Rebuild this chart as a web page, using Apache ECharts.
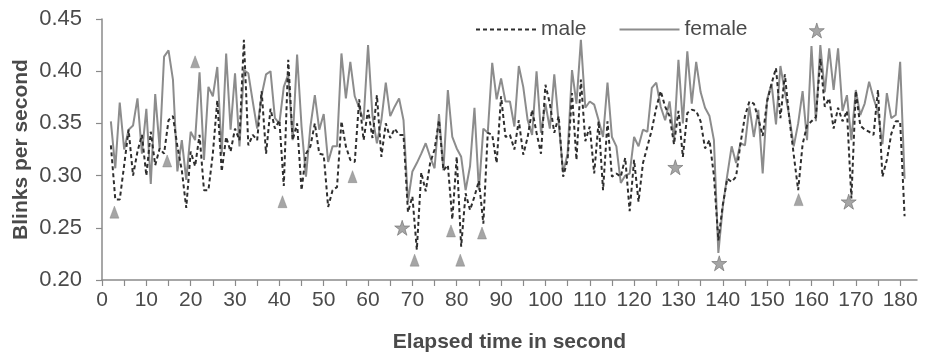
<!DOCTYPE html>
<html>
<head>
<meta charset="utf-8">
<script src="https://cdn.jsdelivr.net/npm/echarts@6/dist/echarts.min.js"></script>
<style>
  html, body { margin: 0; padding: 0; background: #fff; }
  #chart { width: 925px; height: 355px; }
</style>
</head>
<body>
<div id="chart"></div>
<script>
// one reading per second, from second 2 to 181
const seconds = Array.from({ length: 180 }, (_, i) => i + 2);

const femaleRate = [
  0.352, 0.307, 0.370, 0.325, 0.344, 0.348, 0.374, 0.321, 0.364, 0.292,
  0.378, 0.326, 0.414, 0.420, 0.392, 0.304, 0.334, 0.296, 0.342, 0.334,
  0.399, 0.315, 0.385, 0.376, 0.404, 0.321, 0.417, 0.344, 0.398, 0.328,
  0.401, 0.398, 0.371, 0.345, 0.377, 0.397, 0.400, 0.355, 0.350, 0.385,
  0.397, 0.334, 0.416, 0.347, 0.299, 0.347, 0.377, 0.344, 0.359, 0.313,
  0.328, 0.328, 0.417, 0.374, 0.409, 0.376, 0.365, 0.353, 0.425, 0.357,
  0.331, 0.353, 0.389, 0.357, 0.366, 0.374, 0.353, 0.275, 0.304, 0.312,
  0.321, 0.331, 0.318, 0.307, 0.359, 0.305, 0.382, 0.337, 0.326, 0.318,
  0.286, 0.309, 0.365, 0.286, 0.345, 0.341, 0.408, 0.373, 0.393, 0.371,
  0.371, 0.347, 0.405, 0.385, 0.353, 0.339, 0.400, 0.341, 0.369, 0.345,
  0.397, 0.350, 0.303, 0.321, 0.401, 0.369, 0.430, 0.365, 0.371, 0.368,
  0.353, 0.337, 0.389, 0.337, 0.328, 0.293, 0.300, 0.302, 0.337, 0.328,
  0.344, 0.342, 0.384, 0.389, 0.366, 0.353, 0.371, 0.334, 0.411, 0.350,
  0.419, 0.369, 0.409, 0.380, 0.365, 0.357, 0.334, 0.226, 0.270, 0.300,
  0.328, 0.312, 0.331, 0.329, 0.366, 0.337, 0.363, 0.302, 0.373, 0.388,
  0.349, 0.405, 0.380, 0.357, 0.328, 0.350, 0.381, 0.334, 0.424, 0.352,
  0.425, 0.380, 0.422, 0.382, 0.422, 0.362, 0.377, 0.334, 0.382, 0.358,
  0.369, 0.390, 0.374, 0.361, 0.330, 0.379, 0.355, 0.358, 0.409, 0.297
];

const maleRate = [
  0.329, 0.277, 0.277, 0.310, 0.344, 0.300, 0.323, 0.339, 0.300, 0.342,
  0.310, 0.326, 0.321, 0.353, 0.357, 0.328, 0.305, 0.269, 0.323, 0.309,
  0.339, 0.286, 0.286, 0.321, 0.372, 0.304, 0.337, 0.323, 0.345, 0.334,
  0.430, 0.329, 0.339, 0.334, 0.381, 0.321, 0.364, 0.345, 0.353, 0.290,
  0.411, 0.334, 0.350, 0.286, 0.321, 0.328, 0.350, 0.321, 0.320, 0.270,
  0.286, 0.289, 0.352, 0.328, 0.315, 0.313, 0.373, 0.334, 0.363, 0.336,
  0.377, 0.318, 0.350, 0.336, 0.345, 0.339, 0.339, 0.265, 0.280, 0.229,
  0.303, 0.285, 0.312, 0.325, 0.353, 0.305, 0.310, 0.258, 0.318, 0.232,
  0.283, 0.267, 0.280, 0.295, 0.254, 0.341, 0.339, 0.312, 0.376, 0.337,
  0.339, 0.325, 0.353, 0.320, 0.337, 0.363, 0.341, 0.321, 0.387, 0.369,
  0.341, 0.357, 0.299, 0.315, 0.379, 0.315, 0.392, 0.333, 0.347, 0.302,
  0.352, 0.286, 0.352, 0.299, 0.302, 0.299, 0.317, 0.266, 0.315, 0.275,
  0.312, 0.328, 0.344, 0.365, 0.381, 0.366, 0.357, 0.330, 0.362, 0.318,
  0.360, 0.363, 0.362, 0.352, 0.326, 0.334, 0.300, 0.238, 0.272, 0.297,
  0.294, 0.299, 0.331, 0.357, 0.371, 0.369, 0.355, 0.338, 0.371, 0.388,
  0.403, 0.355, 0.397, 0.355, 0.320, 0.286, 0.330, 0.348, 0.352, 0.356,
  0.412, 0.366, 0.374, 0.345, 0.365, 0.352, 0.362, 0.278, 0.381, 0.348,
  0.344, 0.342, 0.339, 0.382, 0.299, 0.315, 0.340, 0.352, 0.352, 0.261
];

// marked events: [second, rate]
const triangleMarks = [
  [2.8, 0.265], [14.7, 0.314], [21.0, 0.409], [40.7, 0.275], [56.5, 0.299],
  [70.5, 0.219], [78.7, 0.247], [80.8, 0.219], [85.7, 0.245], [157.1, 0.277]
];
const starMarks = [
  [67.7, 0.250], [129.3, 0.308], [139.2, 0.216], [161.2, 0.439], [168.4, 0.275]
];

const xTicks = [];
for (let s = 0; s <= 180; s += 5) xTicks.push(s);
const xLabels = xTicks.filter((s) => s % 10 === 0);

const AXIS = "#8a8a8a";
const TEXT = "#4a4a4a";
const FONT = "'Liberation Sans', Arial, sans-serif";
const STAR =
  "path://M50,0 L61.8,35.4 L99,35.4 L69.1,57.3 L80.9,92.7 L50,70.8 L19.1,92.7 L30.9,57.3 L1,35.4 L38.2,35.4 Z";

const chart = echarts.init(document.getElementById("chart"), null, { renderer: "canvas" });

chart.setOption({
  animation: false,
  backgroundColor: "#fff",
  textStyle: { fontFamily: FONT },
  grid: { left: 102, right: 8, top: 19, bottom: 75, outerBoundsMode: "none" },
  legend: {
    left: 470,
    top: 14,
    itemWidth: 60,
    itemHeight: 14,
    itemGap: 32,
    data: ["male", "female"],
    itemStyle: { opacity: 0 },
    textStyle: { color: TEXT, fontSize: 21, fontFamily: FONT },
  },
  xAxis: {
    type: "value",
    min: 0,
    max: 183.8,
    name: "Elapsed time in second",
    nameLocation: "middle",
    nameGap: 52,
    nameTextStyle: { color: TEXT, fontSize: 21, fontWeight: "bold", fontFamily: FONT },
    axisLine: { show: true, lineStyle: { color: AXIS, width: 1.5 } },
    axisTick: { show: true, length: 6, customValues: xTicks, lineStyle: { color: AXIS, width: 1.2 } },
    axisLabel: { customValues: xLabels, color: TEXT, fontSize: 21, margin: 10, fontFamily: FONT },
    splitLine: { show: false },
  },
  yAxis: {
    type: "value",
    min: 0.2,
    max: 0.45,
    interval: 0.05,
    name: "Blinks per second",
    nameLocation: "middle",
    nameGap: 70,
    nameMoveOverlap: false,
    nameTextStyle: { color: TEXT, fontSize: 21, fontWeight: "bold", fontFamily: FONT },
    axisLine: { show: true, lineStyle: { color: AXIS, width: 1.5 } },
    axisTick: { show: true, length: 6, lineStyle: { color: AXIS, width: 1.2 } },
    axisLabel: {
      color: TEXT,
      fontSize: 22,
      margin: 20,
      fontFamily: FONT,
      formatter: (v) => v.toFixed(2),
    },
    splitLine: { show: false },
  },
  series: [
    {
      name: "female",
      type: "line",
      symbol: "none",
      z: 2,
      lineStyle: { color: "#8c8c8c", width: 2 },
      itemStyle: { color: "#8c8c8c" },
      data: seconds.map((s, i) => [s, femaleRate[i]]),
    },
    {
      name: "male",
      type: "line",
      symbol: "none",
      z: 3,
      lineStyle: { color: "#2e2e2e", width: 2, type: [4, 3] },
      itemStyle: { color: "#2e2e2e" },
      data: seconds.map((s, i) => [s, maleRate[i]]),
    },
    {
      name: "triangle",
      type: "scatter",
      symbol: "triangle",
      symbolSize: [9, 12],
      z: 4,
      itemStyle: { color: "#8f8f8f", borderColor: "#7a7a7a", borderWidth: 0.5 },
      data: triangleMarks,
    },
    {
      name: "star",
      type: "scatter",
      symbol: STAR,
      symbolSize: 15,
      z: 4,
      itemStyle: { color: "#8f8f8f", borderColor: "#6e6e6e", borderWidth: 0.8 },
      data: starMarks,
    },
  ],
});
</script>
</body>
</html>
